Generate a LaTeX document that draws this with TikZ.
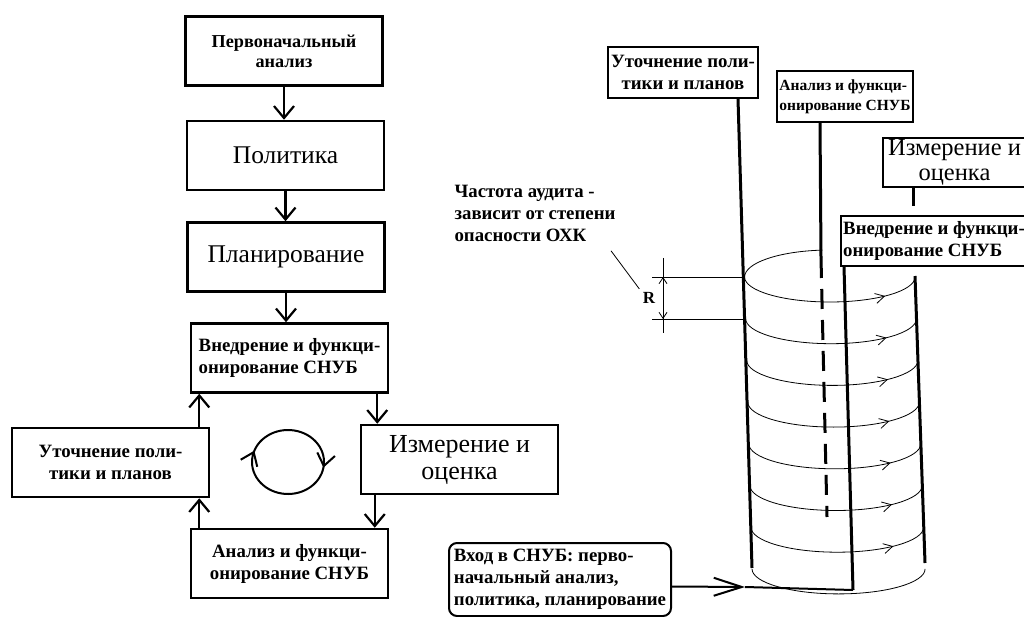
\documentclass[tikz,border=0pt]{standalone}
\usepackage{fontspec}
\setmainfont{Liberation Serif}
\usetikzlibrary{arrows.meta,decorations.markings}

\newcommand{\flowbig}{\fontsize{25.5}{28}\selectfont}
\newcommand{\flowmid}{\fontsize{24.5}{25}\selectfont}
\newcommand{\flowbold}{\fontsize{18.8}{22}\selectfont\bfseries}
\newcommand{\flowfirst}{\fontsize{18.2}{20}\selectfont\bfseries}
\newcommand{\flowsmall}{\fontsize{15.5}{20}\selectfont\bfseries}

\begin{document}
\begin{tikzpicture}[x=1pt, y=-1pt,
    flow/.style={draw, line width=2.5pt, fill=white, minimum width=197pt, minimum height=69pt, inner sep=2pt},
    tag/.style={draw, line width=2pt, fill=white, inner sep=2pt},
    arr/.style={line width=2.2pt, -{Straight Barb[length=12pt,width=20pt]}},
    wall/.style={line width=3pt},
    thin/.style={line width=0.8pt},
    coil/.style={thin, postaction={decorate},
      decoration={markings, mark=at position 0.8 with {\arrow{Straight Barb[length=9pt,width=10pt]}}}}]
    \clip (0,0) rectangle (1024,617);
    \fill[white] (0,0) rectangle (1024,617);

    % Nodes
    \node[flow, font=\flowfirst, align=center] (first) at (284,51) {Первоначальный\\анализ};
    \node[flow, font=\flowbig] (pol) at (285.5,155.5) {Политика};
    \node[flow, font=\flowbig] (plan) at (286,257) {Планирование};
    \node[flow, font=\flowbold, align=left] (vnedr) at (289.5,358) {Внедрение и функци-\\онирование СНУБ};
    \node[flow, font=\fontsize{26}{27}\selectfont, align=center] (izm) at (459.5,459.5) {Измерение и\\оценка};
    \node[flow, font=\flowbold, align=center] (anal) at (289.5,563.5) {Анализ и функци-\\онирование СНУБ};
    \node[flow, font=\flowbold, align=center] (utoch) at (110.5,462.5) {Уточнение поли-\\тики и планов};

    % Edges
    \draw[arr] (first.south) -- (first.south |- pol.north);
    \draw[arr] (pol.south) -- (pol.south |- plan.north);
    \draw[arr] (plan.south) -- (plan.south |- vnedr.north);
    \draw[arr] ([xshift=-12pt]vnedr.south east) -- ([xshift=-12pt]vnedr.south east |- izm.north);
    \draw[arr] ([xshift=15pt]izm.south west) -- ([xshift=15pt]izm.south west |- anal.north);
    \draw[arr] ([xshift=-11pt]utoch.south east |- anal.north) -- ([xshift=-11pt]utoch.south east);
    \draw[arr] ([xshift=-11pt]utoch.north east) -- ([xshift=-11pt]utoch.north east |- vnedr.south);

    % Cycle
    \draw[line width=2pt, postaction={decorate}, decoration={markings,
        mark=at position 0.133 with {\arrow{Straight Barb[length=12pt,width=18pt]}},
        mark=at position 0.661 with {\arrow{Straight Barb[length=12pt,width=18pt]}}}]
      (288,462) ++(-40:36 and 32) arc[start angle=-40, end angle=320, x radius=36, y radius=32];

    % Spiral
    \node[tag, font=\flowbold, align=center, minimum width=150pt, minimum height=51pt] (rutoch) at (683,72.5) {Уточнение поли-\\тики и планов};
    \node[tag, font=\flowsmall, align=left, minimum width=134pt, minimum height=51pt] (ranal) at (845,96.5) {Анализ и функци-\\онирование СНУБ};
    \node[tag, font=\flowmid, align=center, minimum width=143pt, minimum height=49pt] (rizm) at (954.5,162.5) {Измерение и\\оценка};

    \coordinate (lbot) at (752,568);
    \coordinate (fbot) at (853,590);
    \coordinate (rtop) at (915,276);
    \coordinate (rbot) at (925,563);
    \coordinate (mbreak) at (821,258);
    \coordinate (mbot) at (827,517);

    \draw[thin] (744.6,277) arc[start angle=180, end angle=265, x radius=85.2, y radius=27];
    \foreach \k in {0,...,7} {
      \pgfmathsetmacro{\yc}{277+41.7*\k}
      \pgfmathsetmacro{\xl}{744.6+1.06*\k}
      \pgfmathsetmacro{\rx}{85.2+0.19*\k}
      \ifnum\k<7
        \draw[coil] (\xl,\yc) arc[start angle=180, end angle=0, x radius=\rx, y radius=25];
      \else
        \draw[thin] (\xl,\yc) arc[start angle=180, end angle=0, x radius=\rx, y radius=25];
      \fi
    }

    \node[tag, font=\flowbold, align=left, minimum width=186pt, minimum height=50pt] (rvnedr) at (934,241) {Внедрение и функци-\\онирование СНУБ};

    \draw[wall] ([xshift=55pt]rutoch.south) -- (lbot);
    \draw[wall] ([xshift=-25pt]ranal.south) -- (mbreak);
    \draw[wall, dash pattern=on 20pt off 11pt] (mbreak) -- (mbot);
    \draw[wall] ([xshift=4pt]rvnedr.south west) -- (fbot);
    \draw[wall] (rtop) -- (rbot);
    \draw[wall] ([xshift=-41.5pt]rizm.south) -- ++(0,18);

    % Audit step
    \node[font=\flowbold, align=left] (freq) at (535,213) {Частота аудита -\\зависит от степени\\опасности ОХК};
    \node[font=\fontsize{17}{17}\selectfont\bfseries] (rlab) at (649,298) {R};
    \draw[thin] (652,277) -- (744.6,277);
    \draw[thin] (652,319) -- (745.7,319);
    \draw[thin] (663,258) -- (663,333);
    \draw[thin, {Straight Barb[length=6pt,width=8pt]}-{Straight Barb[length=6pt,width=8pt]}] (663,277) -- (663,319);
    \draw[thin] ([xshift=-8pt,yshift=-6pt]freq.south east) -- (rlab.north west);

    % Entry
    \node[draw, line width=2pt, rounded corners=8pt, fill=white, minimum width=222pt, minimum height=73pt, inner sep=2pt, align=left, font=\flowbold] (entry) at (560,579.5) {Вход в СНУБ: перво-\\начальный анализ,\\политика, планирование};
    \coordinate (etip) at (745,587);
    \draw[line width=2pt, -{Straight Barb[length=28pt,width=18pt]}] ([yshift=-7pt]entry.east) -- (etip);
    \draw[line width=2pt] (etip) -- (fbot);
  \end{tikzpicture}
\end{document}
